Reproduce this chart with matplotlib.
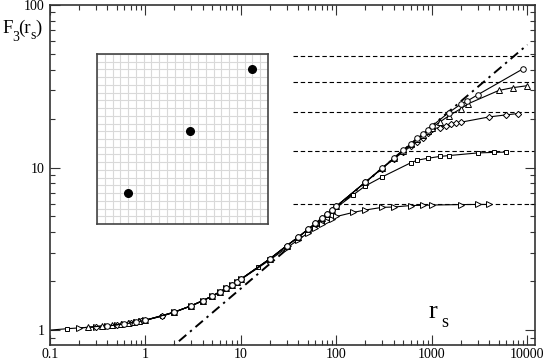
import matplotlib
matplotlib.use("Agg")
import matplotlib.pyplot as plt
from matplotlib.ticker import LogLocator, FuncFormatter, NullFormatter

plt.rcParams['font.family'] = ['Liberation Serif', 'DejaVu Serif']

# series
sq_x = [0.1, 0.15, 0.4, 0.6, 0.8, 1, 1.5, 2, 3, 4, 5, 6, 8, 10, 15, 20, 30, 40, 50, 60,
        80, 100, 150, 200, 300, 600, 700, 900, 1200, 1500, 3000, 4500, 6000]
sq_y = [1.00, 1.02, 1.06, 1.09, 1.12, 1.15, 1.22, 1.29, 1.41, 1.52, 1.62, 1.72, 1.89, 2.06,
        2.43, 2.74, 3.30, 3.74, 4.15, 4.50, 5.12, 5.68, 6.80, 7.70, 8.75, 10.7, 11.1, 11.4,
        11.7, 11.85, 12.3, 12.4, 12.45]

tr_x = [0.2, 0.3, 0.4, 0.5, 0.6, 0.7, 0.8, 0.9, 1, 2, 3, 4, 5, 6, 7, 8, 9, 10, 20, 30, 40,
        50, 60, 70, 80, 90, 100, 150, 200, 300, 400, 600, 800, 1000, 2000, 3000, 4000]
tr_y = [1.03, 1.05, 1.06, 1.08, 1.09, 1.11, 1.12, 1.14, 1.15, 1.29, 1.41, 1.52, 1.62, 1.72,
        1.81, 1.89, 1.97, 2.05, 2.70, 3.20, 3.60, 3.95, 4.25, 4.50, 4.70, 4.85, 5.00, 5.30,
        5.48, 5.69, 5.72, 5.84, 5.86, 5.88, 5.92, 5.93, 5.93]

dm_x = [0.3, 0.5, 0.7, 0.9, 1.5, 2, 3, 4, 5, 6, 7, 8, 9, 10, 20, 30, 40, 50, 60, 70, 80, 90,
        100, 200, 300, 400, 500, 600, 700, 800, 900, 1000, 1200, 1400, 1600, 1800, 2000,
        4000, 6000, 8000]
dm_y = [1.05, 1.08, 1.11, 1.14, 1.22, 1.29, 1.41, 1.52, 1.62, 1.72, 1.81, 1.89, 1.97, 2.06,
        2.74, 3.30, 3.74, 4.16, 4.53, 4.88, 5.19, 5.50, 5.79, 8.10, 9.85, 11.3, 12.5, 13.5,
        14.4, 15.3, 16.3, 17.3, 17.6, 18.1, 18.6, 18.9, 19.0, 20.5, 21.1, 21.5]

tu_x = [0.25, 0.35, 0.45, 0.55, 0.65, 0.75, 0.85, 1, 2, 3, 4, 5, 6, 7, 8, 9, 10, 20, 30, 40,
        50, 60, 70, 80, 90, 100, 200, 300, 400, 500, 600, 700, 800, 900, 1000, 1200, 1500,
        2000, 2400, 5000, 7000, 10000]
tu_y = [1.04, 1.06, 1.07, 1.09, 1.10, 1.12, 1.13, 1.15, 1.29, 1.41, 1.52, 1.62, 1.72, 1.81,
        1.89, 1.97, 2.06, 2.74, 3.30, 3.74, 4.16, 4.53, 4.88, 5.19, 5.50, 5.79, 8.12, 9.92,
        11.4, 12.7, 13.9, 14.9, 15.9, 16.8, 17.6, 19.0, 20.8, 23.0, 24.7, 29.8, 31.0, 31.9]

ci_x = [0.4, 0.6, 0.8, 1, 2, 3, 4, 5, 6, 7, 8, 9, 10, 20, 30, 40, 50, 60, 70, 80, 90, 100,
        200, 300, 400, 500, 600, 700, 800, 900, 1000, 1500, 2000, 2350, 3000, 9000]
ci_y = [1.06, 1.09, 1.12, 1.15, 1.29, 1.41, 1.52, 1.62, 1.72, 1.81, 1.89, 1.97, 2.06, 2.74,
        3.30, 3.74, 4.16, 4.53, 4.88, 5.19, 5.50, 5.79, 8.12, 9.92, 11.45, 12.8, 14.0, 15.1,
        16.1, 17.1, 18.0, 21.8, 24.5, 25.7, 28.0, 40.5]

plateaus = [5.93, 12.7, 22.1, 33.7, 48.7]
plateau_x = [35, 12000]

guide_x = [1.5, 10000]
guide_y = [0.70, 57.0]

dots_x = [4, 12, 20]
dots_y = [4, 12, 20]


W, H = 545, 362
fig = plt.figure(figsize=(W / 100, H / 100), dpi=100)
ax = fig.add_axes([50/W, 17/H, 485/W, 340/H])
ax.set_xscale('log')
ax.set_yscale('log')

for p in plateaus:
    ax.plot(plateau_x, [p, p], color='k', lw=0.8, ls=(0, (4, 2.5)))

ax.plot(guide_x, guide_y, color='k', lw=1.4, ls=(0, (5, 2.5, 1.2, 2.5)))

style = dict(color='k', lw=0.8, mfc='white', mec='k', mew=0.7)
ax.plot(sq_x, sq_y, marker='s', ms=3.3, markevery=slice(1, None), **style)
ax.plot(tr_x, tr_y, marker='>', ms=4, **style)
ax.plot(dm_x, dm_y, marker='D', ms=3.2, **style)
ax.plot(tu_x, tu_y, marker='^', ms=4, **style)
ax.plot(ci_x, ci_y, marker='o', ms=4, **style)

ax.set_xlim(0.1, 12000)
ax.set_ylim(0.81, 100)

fmt = FuncFormatter(lambda v, p: f'{v:g}')
for axis in (ax.xaxis, ax.yaxis):
    axis.set_major_locator(LogLocator(base=10))
    axis.set_minor_locator(LogLocator(base=10, subs=range(2, 10)))
    axis.set_major_formatter(fmt)
    axis.set_minor_formatter(NullFormatter())

ax.tick_params(which='both', direction='in', top=True, right=True, width=0.8,
               color='#333333', labelsize=10)
ax.tick_params(axis='x', pad=2)
ax.tick_params(axis='y', pad=4)
ax.tick_params(which='major', length=7)
ax.tick_params(which='minor', length=3.5)
for s in ax.spines.values():
    s.set_color('#333333')
    s.set_linewidth(1.2)

# y label F_3(r_s), pieces placed by hand so the subscripts sit low
def label(x, y, t, size):
    fig.text(x / W, 1 - y / H, t, fontsize=size, va='baseline')

label(2, 33, 'F', 13.5)
label(12.5, 41, '3', 10)
label(18.5, 33, '(r', 13.5)
label(30.5, 39, 's', 10)
label(35, 33, ')', 13.5)

# x label r_s inside the axes
label(429, 318, 'r', 19)
label(441, 327, 's', 13)

# inset lattice
ins = fig.add_axes([97/W, 1 - 224/H, 171/W, 170/H])
ins.set_xlim(0, 22)
ins.set_ylim(0, 22)
ins.set_xticks(range(23))
ins.set_yticks(range(23))
ins.grid(color='#d9d9d9', lw=0.8)
ins.tick_params(length=0, labelbottom=False, labelleft=False)
ins.plot(dots_x, dots_y, 'o', color='k', ms=5.5)
for s in ins.spines.values():
    s.set_color('#444444')
    s.set_linewidth(1.2)

fig.savefig('out.png', dpi=100)
